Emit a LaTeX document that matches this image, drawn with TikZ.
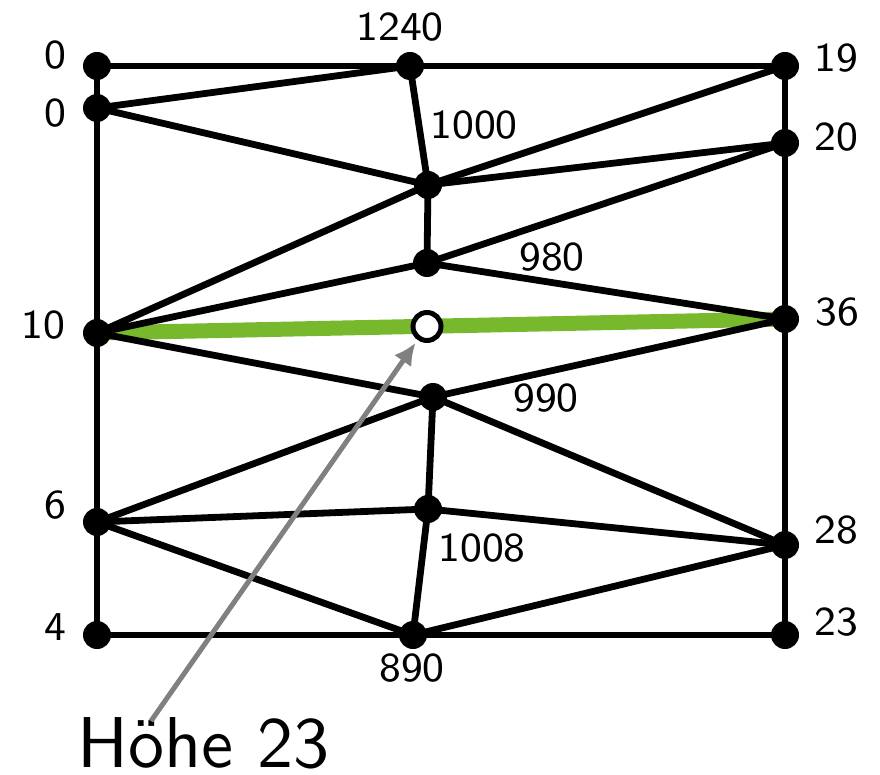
\documentclass[tikz,border=0pt]{standalone}
\usepackage{fontspec}
\newfontfamily\lmseight[Extension=.otf]{lmsans8-regular}
\newfontfamily\lmsten[Extension=.otf]{lmsans10-regular}
\usetikzlibrary{arrows.meta,calc}
\definecolor{grn}{RGB}{120,184,45}
\definecolor{arrgray}{RGB}{128,128,128}
\begin{document}
\begin{tikzpicture}[x=1pt,y=-1pt,
  edge/.style={line width=6.8pt,black},
  dot/.style={fill=black},
  lab/.style={font=\lmseight\fontsize{41}{48}\selectfont,inner sep=0pt,anchor=center},
  biglab/.style={font=\lmsten\fontsize{72}{86}\selectfont,inner sep=0pt}]
\useasboundingbox (0,0) rectangle (880,775);
% vertices
\coordinate (A) at (97,66);
\coordinate (B) at (97,108);
\coordinate (C) at (410,66);
\coordinate (D) at (785,66);
\coordinate (E) at (428,185);
\coordinate (F) at (785,143);
\coordinate (G) at (427,263);
\coordinate (H) at (97,333);
\coordinate (I) at (785,319);
\coordinate (W) at (427,326.5);
\coordinate (J) at (433,397);
\coordinate (K) at (97,522);
\coordinate (L) at (428,509);
\coordinate (M) at (785,545);
\coordinate (N) at (97,635);
\coordinate (O) at (413,635);
\coordinate (P) at (785,635);
% green segment
\draw[grn,line width=15pt] (H) -- (I);
% edges
\draw[edge] (A) -- (C) -- (D) -- (F) -- (I) -- (M) -- (P) -- (O) -- (N) -- (K) -- (H) -- (B) -- (A);
\draw[edge] (B) -- (C);
\draw[edge] (B) -- (E);
\draw[edge] (C) -- (E);
\draw[edge] (E) -- (D);
\draw[edge] (E) -- (F);
\draw[edge] (E) -- (H);
\draw[edge] (E) -- (G);
\draw[edge] (G) -- (F);
\draw[edge] (G) -- (H);
\draw[edge] (G) -- (I);
\draw[edge] (H) -- (J);
\draw[edge] (J) -- (I);
\draw[edge] (J) -- (K);
\draw[edge] (J) -- (L);
\draw[edge] (J) -- (M);
\draw[edge] (K) -- (L);
\draw[edge] (L) -- (M);
\draw[edge] (K) -- (O);
\draw[edge] (L) -- (O);
\draw[edge] (O) -- (M);
% dots
\foreach \p in {A,B,C,D,E,F,G,H,I,J,K,L,M,N,O,P}
  \fill[dot] (\p) circle (14);
% labels
\node[lab] (lA) at (55,55) {0};
\node[lab] (lB) at (55,113) {0};
\node[lab] (lC) at (400,27) {1240};
\node[lab] (lD) at (836,58) {19};
\node[lab] (lE) at (474,125) {1000};
\node[lab] (lF) at (836,137) {20};
\node[lab] (lG) at (552,257) {980};
\node[lab] (lH) at (43,325) {10};
\node[lab] (lI) at (837,312) {36};
\node[lab] (lJ) at (546,398) {990};
\node[lab] (lK) at (55,505) {6};
\node[lab] (lM) at (836,530) {28};
\node[lab] (lL) at (482,548) {1008};
\node[lab] (lN) at (55,627) {4};
\node[lab] (lP) at (836,622) {23};
\node[lab] (lO) at (412,668) {890};
\node[biglab,anchor=base west] (hoehe) at (77,767) {Höhe 23};
\coordinate (arrstart) at (151,721);
% arrow
\draw[arrgray,line width=5pt,-{Latex[length=22pt,width=21pt]}] (arrstart) -- ($(W)!20pt!(arrstart)$);
% white point
\draw[black,fill=white,line width=5pt] (W) circle (14);
\end{tikzpicture}
\end{document}
